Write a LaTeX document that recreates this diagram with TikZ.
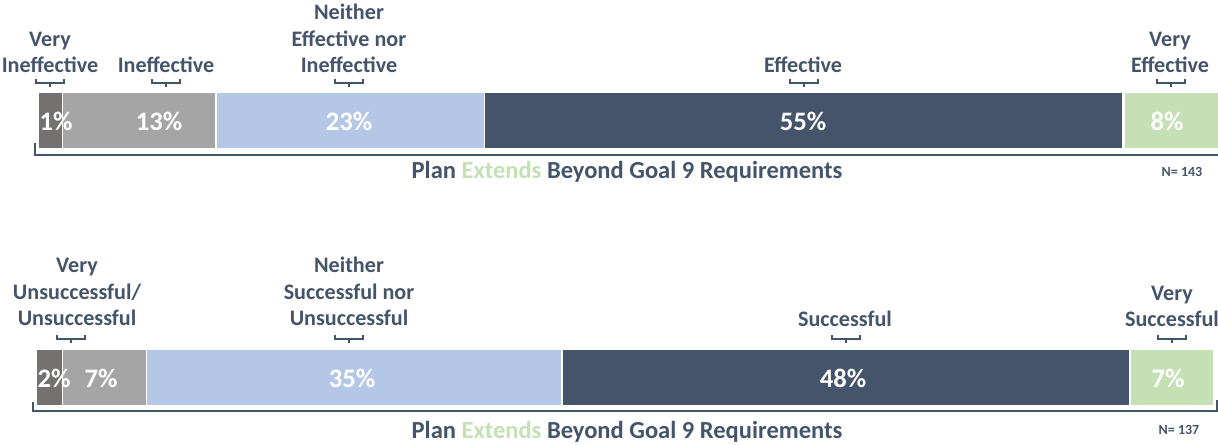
\documentclass[tikz,border=0pt]{standalone}
\usepackage{fontspec}
\setmainfont{Carlito}
\definecolor{ink}{HTML}{44546A}
\definecolor{segA}{HTML}{767171}
\definecolor{segB}{HTML}{A5A5A5}
\definecolor{segC}{HTML}{B4C7E7}
\definecolor{segD}{HTML}{44546A}
\definecolor{segE}{HTML}{C5E0B4}
\tikzset{
  lab/.style={font=\fontsize{16.6}{19.8}\selectfont\bfseries, text=ink, align=center, inner sep=0pt, anchor=south, text depth=0pt},
  pct/.style={font=\fontsize{20}{24}\selectfont\bfseries, text=white, inner sep=0pt, anchor=base},
  axis/.style={font=\fontsize{18.4}{22}\selectfont\bfseries, text=ink, inner sep=0pt, anchor=base},
  nlab/.style={font=\fontsize{10.5}{12}\selectfont\bfseries, text=ink, inner sep=0pt, anchor=base},
  braceline/.style={draw=ink, line width=1.5pt},
  minibrace/.pic={\draw[braceline] (-14,-4) -- (-14,0) -- (14,0) -- (14,-4); \draw[braceline] (0,0) -- (0,4);}
}
\begin{document}
\begin{tikzpicture}[x=0.75pt,y=-0.75pt]
\useasboundingbox (0,0) rectangle (1218,444);
% ---------- top chart ----------
\fill[segA] (39,93) rectangle (62,148);
\fill[segB] (63,93) rectangle (215,148);
\fill[segC] (217,93) rectangle (484,148);
\fill[segD] (485,93) rectangle (1122,148);
\fill[segE] (1125,93) rectangle (1218,148);
\node[pct] (p11) at (56,130) {1\%};
\node[pct] (p12) at (159,130) {13\%};
\node[pct] (p13) at (349,130) {23\%};
\node[pct] (p14) at (803,130) {55\%};
\node[pct] (p15) at (1167,130) {8\%};
\node[lab] (t11) at (50,73) {Very\\Ineffective};
\node[lab] (t12) at (166,73) {Ineffective};
\node[lab] (t13) at (349,73) {Neither\\Effective nor\\Ineffective};
\node[lab] (t14) at (803,73) {Effective};
\node[lab] (t15) at (1170,73) {Very\\Effective};
\pic at (50,83) {minibrace};
\pic at (166,83) {minibrace};
\pic at (349,83) {minibrace};
\pic at (804,83) {minibrace};
\pic at (1171,83) {minibrace};
\coordinate (b1l) at (35,143);
\coordinate (b1r) at (1218,155);
\draw[braceline] (b1l) |- (b1r);
\node[axis] (x1) at (627,178) {Plan {\color{segE}Extends} Beyond Goal 9 Requirements};
\node[nlab] (n1) at (1182,176) {N= 143};
% ---------- bottom chart ----------
\fill[segA] (37,350) rectangle (62,405);
\fill[segB] (63,350) rectangle (146,405);
\fill[segC] (147,350) rectangle (561,405);
\fill[segD] (563,350) rectangle (1129,405);
\fill[segE] (1131,350) rectangle (1213,405);
\node[pct] (p21) at (54,387) {2\%};
\node[pct] (p22) at (101,387) {7\%};
\node[pct] (p23) at (352,387) {35\%};
\node[pct] (p24) at (843,387) {48\%};
\node[pct] (p25) at (1168,387) {7\%};
\node[lab] (t21) at (77,326) {Very\\Unsuccessful/\\Unsuccessful};
\node[lab] (t22) at (349,326) {Neither\\Successful nor\\Unsuccessful};
\node[lab] (t23) at (845,327) {Successful};
\node[lab] (t24) at (1172,327) {Very\\Successful};
\pic at (71,339) {minibrace};
\pic at (349,339) {minibrace};
\pic at (846,339) {minibrace};
\pic at (1172,339) {minibrace};
\coordinate (b2l) at (33,402);
\coordinate (b2r) at (1217,400);
\draw[braceline] (b2l) -- (33,411) -- (1217,411) -- (b2r);
\node[axis] (x2) at (627,438) {Plan {\color{segE}Extends} Beyond Goal 9 Requirements};
\node[nlab] (n2) at (1179,434) {N= 137};
\end{tikzpicture}
\end{document}
